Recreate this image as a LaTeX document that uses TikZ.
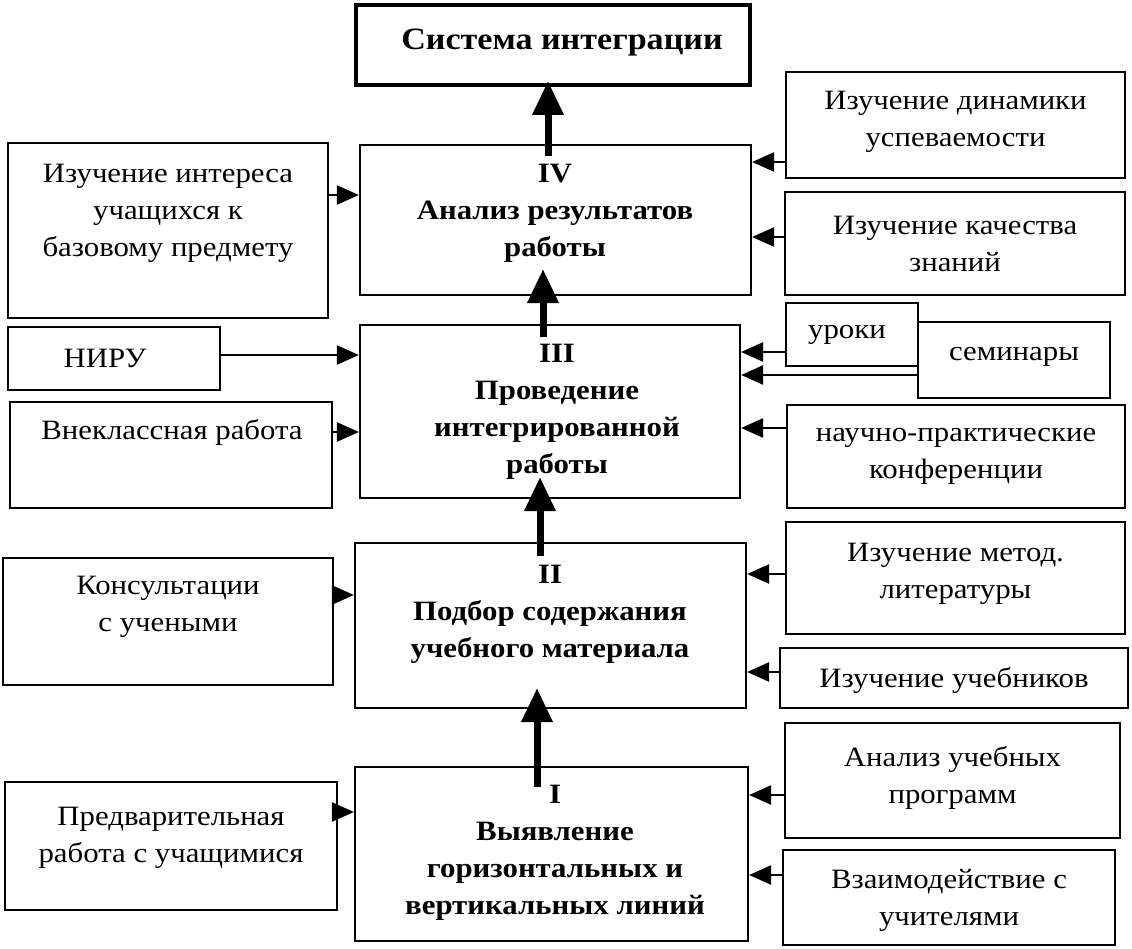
\documentclass[tikz,border=0pt]{standalone}
\usepackage{fontspec}
\setmainfont[FakeStretch=1.1]{Liberation Serif}
\usetikzlibrary{arrows.meta}
\begin{document}
\begin{tikzpicture}[x=1pt,y=-1pt,
  box/.style={draw, line width=2.2pt, inner sep=0pt},
  tbox/.style={draw, line width=4pt, inner sep=0pt},
  txt/.style={align=center, inner sep=0pt, font=\fontsize{28}{37}\selectfont},
  btxt/.style={align=center, inner sep=0pt, font=\fontsize{28}{37}\selectfont\bfseries},
  ttl/.style={align=center, inner sep=0pt, font=\fontsize{31}{37}\selectfont\bfseries},
  sarr/.style={line width=2.5pt, -{Triangle[length=22pt,width=19pt]}},
  tarr/.style={line width=7pt, -{Triangle[length=34pt,width=30pt]}}]
\useasboundingbox (0,0) rectangle (1132,949);
\fill[white] (0,0) rectangle (1132,949);
% centre column
\node[tbox, minimum width=394pt, minimum height=80pt] (T) at (553,45) {};
\node[ttl] (tT) at (562,43) {Система интеграции};
\node[box, minimum width=391pt, minimum height=150pt] (IV) at (555.5,220) {};
\node[btxt] (tIV) at (555,213) {IV\\Анализ результатов\\работы};
\node[box, minimum width=380pt, minimum height=173pt] (III) at (550,411.5) {};
\node[btxt] (tIII) at (557,412) {III\\Проведение\\интегрированной\\работы};
\node[box, minimum width=391pt, minimum height=165pt] (II) at (550.5,625.5) {};
\node[btxt] (tII) at (550,614) {II\\Подбор содержания\\учебного материала};
\node[box, minimum width=393pt, minimum height=174pt] (I) at (551.5,854) {};
\node[btxt] (tI) at (555,853) {I\\Выявление\\горизонтальных и\\вертикальных линий};
% left column
\node[box, minimum width=320pt, minimum height=175pt] (L4) at (168,230.5) {};
\node[txt] (tL4) at (168,213) {Изучение интереса\\учащихся к\\базовому предмету};
\node[box, minimum width=212pt, minimum height=63pt] (NIRU) at (114,358.5) {};
\node[txt] (tNIRU) at (105,358) {НИРУ};
\node[box, minimum width=322pt, minimum height=106pt] (VK) at (171,455) {};
\node[txt] (tVK) at (172,432) {Внеклассная работа};
\node[box, minimum width=330pt, minimum height=127pt] (KU) at (168,621.5) {};
\node[txt] (tKU) at (168,607) {Консультации\\с учеными};
\node[box, minimum width=332pt, minimum height=128pt] (PR) at (171,846) {};
\node[txt] (tPR) at (171,838) {Предварительная\\работа с учащимися};
% right column
\node[box, minimum width=339pt, minimum height=106pt] (R4a) at (955.5,125) {};
\node[txt] (tR4a) at (955.5,122) {Изучение динамики\\успеваемости};
\node[box, minimum width=340pt, minimum height=103pt] (R4b) at (955,243.5) {};
\node[txt] (tR4b) at (955,244) {Изучение качества\\знаний};
\node[box, minimum width=132pt, minimum height=63pt] (UR) at (852,334.5) {};
\node[txt] (tUR) at (847,335) {уроки};
\node[box, minimum width=192pt, minimum height=76pt] (SE) at (1014,360) {};
\node[txt] (tSE) at (1014,357) {семинары};
\node[box, minimum width=338pt, minimum height=103pt] (NP) at (956,456.5) {};
\node[txt] (tNP) at (956,456) {научно-практические\\конференции};
\node[box, minimum width=339pt, minimum height=112pt] (ML) at (955.5,578) {};
\node[txt] (tML) at (955.5,574) {Изучение метод.\\литературы};
\node[box, minimum width=348pt, minimum height=60pt] (UU) at (954,678) {};
\node[txt] (tUU) at (954,680) {Изучение учебников};
\node[box, minimum width=335pt, minimum height=115pt] (AP) at (952.5,780.5) {};
\node[txt] (tAP) at (952.5,778) {Анализ учебных\\программ};
\node[box, minimum width=332pt, minimum height=95pt] (VU) at (949,897.5) {};
\node[txt] (tVU) at (949,900) {Взаимодействие с\\учителями};
% thick arrows
\draw[tarr] ([xshift=-7.5pt,yshift=-12pt]IV.north) -- ([xshift=-5pt,yshift=6pt]T.south);
\draw[tarr] ([xshift=-7pt,yshift=-13pt]III.north) -- ([xshift=-12.5pt,yshift=27pt]IV.south);
\draw[tarr] ([xshift=-10.5pt,yshift=-14pt]II.north) -- ([xshift=-10pt,yshift=22pt]III.south);
\draw[tarr] ([xshift=-14.5pt,yshift=-21pt]I.north) -- ([xshift=-13.5pt,yshift=21pt]II.south);
% left arrows
\draw[sarr] (L4.east |- 0,195) -- (IV.west |- 0,195);
\draw[sarr] (NIRU.east |- 0,355) -- (III.west |- 0,355);
\draw[sarr] (VK.east |- 0,432) -- (III.west |- 0,432);
\draw[sarr] (KU.east |- 0,595) -- (II.west |- 0,595);
\draw[sarr] (PR.east |- 0,812) -- (I.west |- 0,812);
% right arrows
\draw[sarr] (R4a.west |- 0,162) -- (IV.east |- 0,162);
\draw[sarr] (R4b.west |- 0,237) -- (IV.east |- 0,237);
\draw[sarr] (UR.west |- 0,352) -- (III.east |- 0,352);
\draw[sarr] (SE.west |- 0,375) -- (III.east |- 0,375);
\draw[sarr] (NP.west |- 0,428) -- (III.east |- 0,428);
\draw[sarr] (ML.west |- 0,574) -- (II.east |- 0,574);
\draw[sarr] (UU.west |- 0,672) -- (II.east |- 0,672);
\draw[sarr] (AP.west |- 0,795) -- (I.east |- 0,795);
\draw[sarr] (VU.west |- 0,875) -- (I.east |- 0,875);
\end{tikzpicture}
\end{document}
